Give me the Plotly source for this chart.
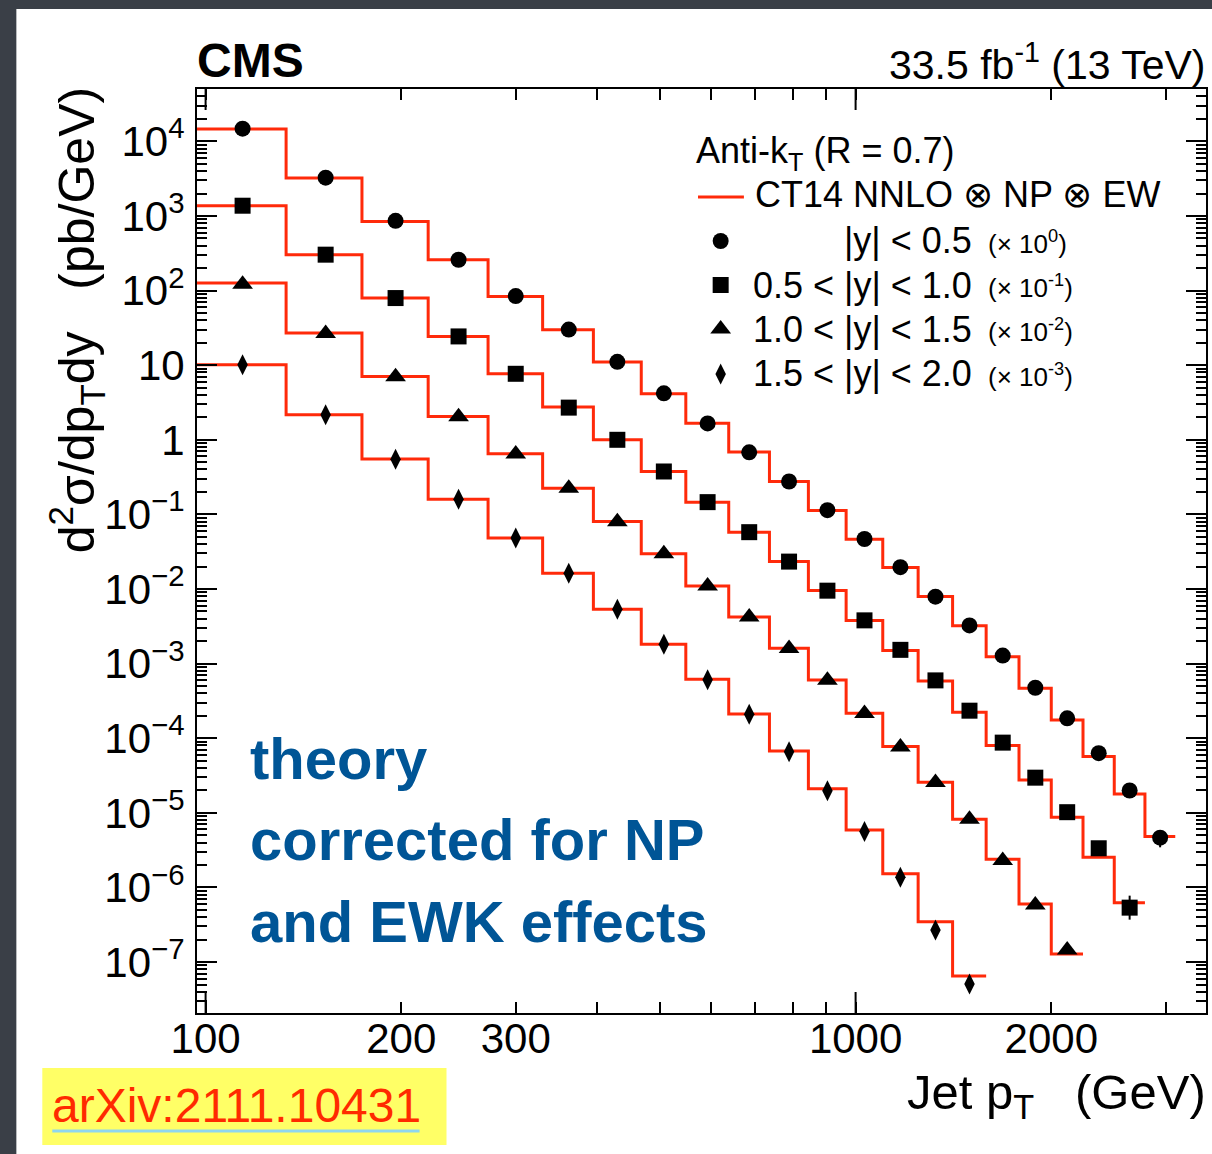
import math
import plotly.graph_objects as go

# ---------------- data ----------------
bin_edges = [97, 133, 174, 220, 272, 330, 395, 468, 548, 638, 737, 846, 967,
             1101, 1248, 1410, 1588, 1784, 2000, 2238, 2500, 2787, 3103]
point_pt = [114, 153, 196, 245, 300, 362, 430, 507, 592, 686, 790, 905, 1032,
            1172, 1327, 1497, 1684, 1890, 2116, 2366, 2640, 2941]

# theory (CT14 NNLO x NP x EW), already scaled as drawn
theory_y05 = [1.47e4, 3230, 845, 259, 83.5, 29.9, 11.0, 4.14, 1.67, 0.684, 0.276,
              0.113, 0.0466, 0.0194, 7.92e-3, 3.21e-3, 1.24e-3, 4.69e-4, 1.76e-4,
              5.67e-5, 1.79e-5, 4.8e-6]
theory_y10 = [1373, 303, 79.4, 24.3, 7.67, 2.75, 1.0, 0.376, 0.146, 0.0578, 0.0233,
              9.53e-3, 3.78e-3, 1.50e-3, 5.87e-4, 2.23e-4, 7.96e-5, 2.76e-5, 8.73e-6,
              2.54e-6, 6.25e-7]
theory_y15 = [126, 27.0, 7.06, 2.05, 0.649, 0.225, 0.0802, 0.0296, 0.0110, 4.2e-3,
              1.61e-3, 6.05e-4, 2.16e-4, 7.72e-5, 2.57e-5, 8.2e-6, 2.39e-6, 6.0e-7,
              1.28e-7]
theory_y20 = [10.1, 2.16, 0.551, 0.160, 0.0481, 0.0163, 5.37e-3, 1.82e-3, 6.19e-4,
              2.12e-4, 6.76e-5, 2.11e-5, 5.9e-6, 1.52e-6, 3.48e-7, 6.5e-8]

# data points (markers)
data_y05 = [1.48e4, 3260, 860, 259, 84.5, 30.0, 11.1, 4.2, 1.66, 0.68, 0.276, 0.114,
            0.0468, 0.0196, 7.9e-3, 3.25e-3, 1.28e-3, 4.75e-4, 1.85e-4, 6.3e-5,
            1.99e-5, 4.65e-6]
data_y10 = [1373, 303, 79.4, 24.3, 7.67, 2.7, 1.0, 0.376, 0.146, 0.0578, 0.0233,
            9.5e-3, 3.8e-3, 1.53e-3, 5.96e-4, 2.34e-4, 8.73e-5, 2.96e-5, 1.02e-5,
            3.35e-6, 5.36e-7]
data_y15 = [122, 26.5, 7.0, 2.03, 0.645, 0.224, 0.080, 0.0296, 0.0110, 4.2e-3,
            1.6e-3, 6.0e-4, 2.14e-4, 7.6e-5, 2.55e-5, 8.2e-6, 2.3e-6, 5.8e-7, 1.45e-7]
data_y20 = [10.1, 2.16, 0.55, 0.160, 0.0481, 0.0163, 5.37e-3, 1.82e-3, 6.1e-4,
            2.1e-4, 6.6e-5, 1.98e-5, 5.6e-6, 1.37e-6, 2.69e-7, 5.08e-8]

err_up_y05 = [0] * 21 + [0.5e-6]
err_dn_y05 = [0] * 21 + [1.2e-6]
err_up_y10 = [0] * 20 + [2.4e-7]
err_dn_y10 = [0] * 20 + [1.66e-7]

series_labels = ["|y| < 0.5", "0.5 < |y| < 1.0", "1.0 < |y| < 1.5", "1.5 < |y| < 2.0"]
scale_labels = ["(× 10<sup>0</sup>)", "(× 10<sup>-1</sup>)", "(× 10<sup>-2</sup>)", "(× 10<sup>-3</sup>)"]

x_tick_vals = [100, 200, 300, 1000, 2000]
x_tick_text = ["100", "200", "300", "1000", "2000"]
y_tick_vals = [1e4, 1e3, 1e2, 10, 1, 1e-1, 1e-2, 1e-3, 1e-4, 1e-5, 1e-6, 1e-7]
y_tick_text = ["10<sup>4</sup>", "10<sup>3</sup>", "10<sup>2</sup>", "10", "1",
               "10<sup>−1</sup>", "10<sup>−2</sup>", "10<sup>−3</sup>", "10<sup>−4</sup>",
               "10<sup>−5</sup>", "10<sup>−6</sup>", "10<sup>−7</sup>"]

# ---------------- layout geometry ----------------
W, H = 1212, 1154
L, R, T, B = 197, 1208, 89, 1013
X_RANGE = [math.log10(97), math.log10(3460)]
Y_RANGE = [-7.683, 4.702]
FONT = "Liberation Sans, Arial, Helvetica, sans-serif"
RED = "#ff2a0a"
BLUE = "#005596"


def px(x):
    return (x - L) / (R - L)


def py(y):
    return (B - y) / (B - T)


fig = go.Figure()

theories = [theory_y05, theory_y10, theory_y15, theory_y20]
datas = [data_y05, data_y10, data_y15, data_y20]
symbols = ["circle", "square", "triangle-up", "diamond-tall"]
sizes = [16, 16, 18, 15]
errs = [(err_up_y05, err_dn_y05), (err_up_y10, err_dn_y10), None, None]

for th, dv, sym, sz, er, lab in zip(theories, datas, symbols, sizes, errs, series_labels):
    n = len(th)
    fig.add_trace(go.Scatter(
        x=bin_edges[:n + 1], y=th + [th[-1]], mode="lines", line_shape="hv",
        line=dict(color=RED, width=3), showlegend=False, hoverinfo="skip"))
    kw = {}
    if er is not None:
        kw["error_y"] = dict(type="data", array=er[0], arrayminus=er[1],
                             color="black", thickness=2, width=0)
    fig.add_trace(go.Scatter(
        x=point_pt[:n], y=dv, mode="markers", name=lab,
        marker=dict(symbol=sym, size=sz, color="black"), showlegend=False, **kw))

# legend keys on an auxiliary unit axis
leg_rows_y = [241, 285, 329, 374]
for sym, sz, ry in zip(symbols, sizes, leg_rows_y):
    fig.add_trace(go.Scatter(
        x=[px(721.7)], y=[py(ry)], xaxis="x2", yaxis="y2", mode="markers",
        marker=dict(symbol=sym, size=sz, color="black"),
        showlegend=False, hoverinfo="skip"))

shapes = []
# white slide panel
shapes.append(dict(type="rect", xref="paper", yref="paper", x0=px(16), x1=px(1212 + 5),
                   y0=py(1154 + 5), y1=py(9), fillcolor="white", line=dict(width=0),
                   layer="below"))
# yellow label box
shapes.append(dict(type="rect", xref="paper", yref="paper", x0=px(42), x1=px(447),
                   y0=py(1145), y1=py(1068), fillcolor="#ffff66", line=dict(width=0),
                   layer="below"))
shapes.append(dict(type="line", xref="paper", yref="paper", x0=px(52), x1=px(420),
                   y0=py(1131), y1=py(1131), line=dict(color="#8fd6ee", width=3)))
# legend line
shapes.append(dict(type="line", xref="paper", yref="paper", x0=px(699), x1=px(745),
                   y0=py(197), y1=py(197), line=dict(color=RED, width=3)))
# long x ticks at 100 and 1000
for v in (100, 1000):
    xp = (math.log10(v) - X_RANGE[0]) / (X_RANGE[1] - X_RANGE[0])
    shapes.append(dict(type="line", xref="paper", yref="paper", x0=xp, x1=xp,
                       y0=0, y1=21 / (B - T), line=dict(color="black", width=2)))
    shapes.append(dict(type="line", xref="paper", yref="paper", x0=xp, x1=xp,
                       y0=1 - 21 / (B - T), y1=1, line=dict(color="black", width=2)))

ann = []


def add_text(text, x, y, size, xanchor="left", yanchor="middle", color="black",
             bold=False, angle=0):
    ann.append(dict(text=(f"<b>{text}</b>" if bold else text), x=x, y=y,
                    xref="paper", yref="paper", xanchor=xanchor, yanchor=yanchor,
                    showarrow=False, textangle=angle,
                    font=dict(family=FONT, size=size, color=color)))


add_text("CMS", px(195), py(60), 48, bold=True)
add_text("33.5 fb<sup>-1</sup> (13 TeV)", px(1210), py(62), 41, xanchor="right")
add_text("Anti-k<sub>T</sub> (R = 0.7)", px(695), py(153), 36)
add_text("CT14 NNLO ⊗ NP ⊗ EW", px(754), py(195), 36)
for lab, sc, ry in zip(series_labels, scale_labels, leg_rows_y):
    add_text(lab, px(976), py(ry), 36, xanchor="right")
    add_text(sc, px(988), py(ry + 1), 26)

add_text("theory", px(248), py(759), 58, color=BLUE, bold=True)
add_text("corrected for NP", px(248), py(839), 58, color=BLUE, bold=True)
add_text("and EWK effects", px(248), py(921), 58, color=BLUE, bold=True)

add_text("arXiv:2111.10431", px(50), py(1105), 48, color="#ff2a00")

add_text("d<sup>2</sup>σ/dp<sub>T</sub>dy\u00a0\u00a0\u00a0(pb/GeV)", px(76), py(85), 50,
         xanchor="center", yanchor="top", angle=-90)
add_text("Jet p<sub>T</sub>\u00a0\u00a0\u00a0(GeV)", px(1210), py(1095), 49,
         xanchor="right")

y_minor = [k * 10.0 ** e for e in range(-8, 5) for k in range(2, 10)]
x_minor = [400, 500, 600, 700, 800, 900, 3000]

axis_common = dict(type="log", showline=True, linecolor="black", linewidth=2,
                   mirror="ticks", ticks="inside", tickwidth=2, tickcolor="black",
                   showgrid=False, zeroline=False,
                   tickfont=dict(family=FONT, size=42, color="black"))

fig.update_layout(
    width=W, height=H, autosize=False,
    margin=dict(l=L, r=W - R, t=T, b=H - B, pad=0),
    paper_bgcolor="#3a3f47", plot_bgcolor="white",
    showlegend=False,
    xaxis=dict(range=X_RANGE, tickmode="array", tickvals=x_tick_vals,
               ticktext=x_tick_text, ticklen=11, ticklabelstandoff=-12,
               minor=dict(tickmode="array", tickvals=x_minor, ticks="inside",
                          ticklen=11, tickwidth=2, tickcolor="black", showgrid=False),
               **axis_common),
    yaxis=dict(range=Y_RANGE, tickmode="array", tickvals=y_tick_vals,
               ticktext=y_tick_text, ticklen=20, ticklabelstandoff=2,
               minor=dict(tickmode="array", tickvals=y_minor, ticks="inside",
                          ticklen=10, tickwidth=2, tickcolor="black", showgrid=False),
               **axis_common),
    xaxis2=dict(overlaying="x", range=[0, 1], visible=False, fixedrange=True),
    yaxis2=dict(overlaying="y", range=[0, 1], visible=False, fixedrange=True),
    shapes=shapes,
    annotations=ann,
)

fig.write_html("out.html")
